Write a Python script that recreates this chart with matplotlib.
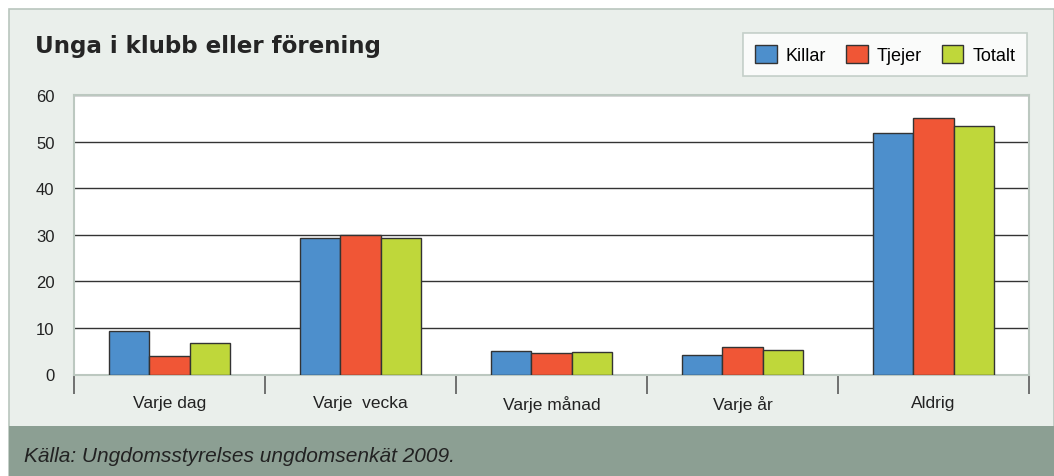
import matplotlib.pyplot as plt
from matplotlib.patches import Rectangle
import numpy as np

categories = ["Varje dag", "Varje  vecka", "Varje månad", "Varje år", "Aldrig"]
killar = [9.3, 29.2, 5.0, 4.2, 51.8]
tjejer = [3.9, 30.0, 4.6, 6.0, 55.1]
totalt = [6.7, 29.2, 4.8, 5.3, 53.3]
series = ["Killar", "Tjejer", "Totalt"]
colors = ["#4D8FCC", "#F05636", "#BFD73A"]

W, H = 1054, 477
fig = plt.figure(figsize=(W / 100, H / 100), dpi=100)
fig.patch.set_facecolor("white")

# bakgrundspanel och sidfot
bg = fig.add_axes([0, 0, 1, 1])
bg.set_xlim(0, W)
bg.set_ylim(H, 0)
bg.axis("off")
bg.add_patch(Rectangle((9, 10), W - 9, H - 10, facecolor="#EAEFEB",
                       edgecolor="#B9C6BE", lw=1.2))
bg.add_patch(Rectangle((9, 427), W - 9, 50, facecolor="#8C9F93", edgecolor="none"))
bg.text(35, 47, "Unga i klubb eller förening", fontsize=16.6, fontweight="semibold",
        family="DejaVu Sans", color="#252525", va="center", ha="left")
bg.text(24, 457, "Källa: Ungdomsstyrelses ungdomsenkät 2009.", fontsize=15,
        family="Liberation Sans", style="italic", color="#222222", va="center")

# diagram
ax = fig.add_axes([74 / W, 1 - 375.5 / H, (1029 - 74) / W, (375.5 - 96) / H])
ax.set_facecolor("white")
x = np.arange(len(categories))
bw = 0.21
for i, (vals, c) in enumerate(zip([killar, tjejer, totalt], colors)):
    ax.bar(x + (i - 1) * bw, vals, width=bw, color=c, edgecolor="#333333",
           linewidth=1.0, label=series[i], zorder=3)

ax.set_xlim(-0.5, len(categories) - 0.5)
ax.set_ylim(0, 60)
ax.set_yticks(range(0, 61, 10))
ax.yaxis.grid(True, color="#333333", lw=1.0, zorder=1)
ax.tick_params(axis="y", length=0, pad=14, labelsize=12, labelcolor="#222222")
for lab in ax.get_yticklabels():
    lab.set_family("Liberation Sans")

ax.set_xticks(np.arange(len(categories) + 1) - 0.5)
ax.set_xticklabels([])
ax.set_xticks(x, minor=True)
ax.set_xticklabels(categories, minor=True, family="Liberation Sans", fontsize=12.5,
                   color="#222222")
ax.tick_params(axis="x", which="major", length=14, width=1.3, color="#666666")
ax.tick_params(axis="x", which="minor", length=0, pad=15)

for side in ["left", "right", "top", "bottom"]:
    ax.spines[side].set_color("#BCC8C0")
    ax.spines[side].set_linewidth(1.5)

leg = ax.legend(loc="upper right", bbox_to_anchor=(1027 / W, 1 - 34 / H),
                bbox_transform=fig.transFigure, ncol=3, frameon=True, fancybox=False,
                prop={"family": "Liberation Sans", "size": 13}, handlelength=1.2,
                handleheight=1.2, columnspacing=1.1, handletextpad=0.5,
                borderpad=0.65, borderaxespad=0)
leg.get_frame().set_edgecolor("#B9C6BE")
leg.get_frame().set_linewidth(1.2)

fig.savefig("out.png", dpi=100)
